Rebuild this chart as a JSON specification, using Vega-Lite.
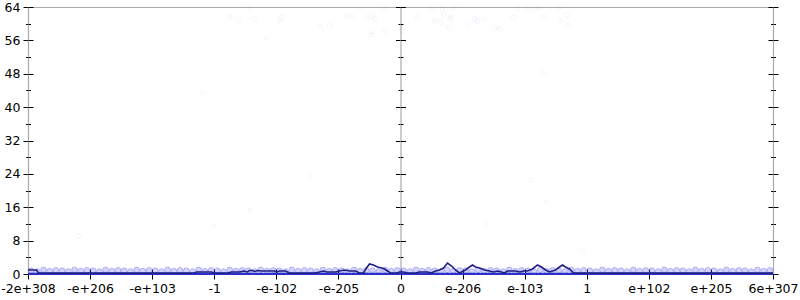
{
  "$schema": "https://vega.github.io/schema/vega-lite/v6.json",
  "width": 745,
  "height": 267,
  "autosize": "none",
  "padding": {"left": 28, "top": 7, "right": 27, "bottom": 26},
  "config": {
    "view": {"stroke": null},
    "axis": {
      "labelFont": "DejaVu Sans",
      "labelFontSize": 12.5,
      "labelColor": "#000000",
      "labelOverlap": false,
      "labelFlush": false,
      "labelBound": false,
      "tickColor": "#000000",
      "tickWidth": 1,
      "domainColor": "#aaaaaa",
      "domainWidth": 1.2,
      "grid": false,
      "title": null
    }
  },
  "datasets": {
    "band": [
      {"x":-5.95,"y":0.8},{"x":-5.85,"y":0.6},{"x":-5.75,"y":1.0},{"x":-5.65,"y":0.7},{"x":-5.55,"y":0.9},
      {"x":-5.45,"y":0.8},{"x":-5.35,"y":0.6},{"x":-5.25,"y":1.0},{"x":-5.15,"y":0.7},{"x":-5.05,"y":0.9},
      {"x":-4.95,"y":0.8},{"x":-4.85,"y":0.6},{"x":-4.75,"y":1.0},{"x":-4.65,"y":0.7},{"x":-4.55,"y":0.9},
      {"x":-4.45,"y":0.8},{"x":-4.35,"y":0.6},{"x":-4.25,"y":1.0},{"x":-4.15,"y":0.7},{"x":-4.05,"y":0.9},
      {"x":-3.95,"y":0.8},{"x":-3.85,"y":0.6},{"x":-3.75,"y":1.0},{"x":-3.65,"y":0.7},{"x":-3.55,"y":0.9},
      {"x":-3.45,"y":0.8},{"x":-3.35,"y":0.6},{"x":-3.25,"y":1.0},{"x":-3.15,"y":0.7},{"x":-3.05,"y":0.9},
      {"x":-2.95,"y":0.8},{"x":-2.85,"y":0.6},{"x":-2.75,"y":1.0},{"x":-2.65,"y":0.7},{"x":-2.55,"y":0.9},
      {"x":-2.45,"y":0.8},{"x":-2.35,"y":0.6},{"x":-2.25,"y":1.0},{"x":-2.15,"y":0.7},{"x":-2.05,"y":0.9},
      {"x":-1.95,"y":0.8},{"x":-1.85,"y":0.6},{"x":-1.75,"y":1.0},{"x":-1.65,"y":0.7},{"x":-1.55,"y":0.9},
      {"x":-1.45,"y":0.8},{"x":-1.35,"y":0.6},{"x":-1.25,"y":1.0},{"x":-1.15,"y":0.7},{"x":-1.05,"y":0.9},
      {"x":-0.95,"y":0.8},{"x":-0.85,"y":0.6},{"x":-0.75,"y":1.0},{"x":-0.65,"y":0.7},{"x":-0.55,"y":0.9},
      {"x":-0.45,"y":0.8},{"x":-0.35,"y":0.6},{"x":-0.25,"y":1.0},{"x":-0.15,"y":0.7},{"x":-0.05,"y":0.9},
      {"x":0.05,"y":0.8},{"x":0.15,"y":0.6},{"x":0.25,"y":1.0},{"x":0.35,"y":0.7},{"x":0.45,"y":0.9},
      {"x":0.55,"y":0.8},{"x":0.65,"y":0.6},{"x":0.75,"y":1.0},{"x":0.85,"y":0.7},{"x":0.95,"y":0.9},
      {"x":1.05,"y":0.8},{"x":1.15,"y":0.6},{"x":1.25,"y":1.0},{"x":1.35,"y":0.7},{"x":1.45,"y":0.9},
      {"x":1.55,"y":0.8},{"x":1.65,"y":0.6},{"x":1.75,"y":1.0},{"x":1.85,"y":0.7},{"x":1.95,"y":0.9},
      {"x":2.05,"y":0.8},{"x":2.15,"y":0.6},{"x":2.25,"y":1.0},{"x":2.35,"y":0.7},{"x":2.45,"y":0.9},
      {"x":2.55,"y":0.8},{"x":2.65,"y":0.6},{"x":2.75,"y":1.0},{"x":2.85,"y":0.7},{"x":2.95,"y":0.9},
      {"x":3.05,"y":0.8},{"x":3.15,"y":0.6},{"x":3.25,"y":1.0},{"x":3.35,"y":0.7},{"x":3.45,"y":0.9},
      {"x":3.55,"y":0.8},{"x":3.65,"y":0.6},{"x":3.75,"y":1.0},{"x":3.85,"y":0.7},{"x":3.95,"y":0.9},
      {"x":4.05,"y":0.8},{"x":4.15,"y":0.6},{"x":4.25,"y":1.0},{"x":4.35,"y":0.7},{"x":4.45,"y":0.9},
      {"x":4.55,"y":0.8},{"x":4.65,"y":0.6},{"x":4.75,"y":1.0},{"x":4.85,"y":0.7},{"x":4.95,"y":0.9},
      {"x":5.05,"y":0.8},{"x":5.15,"y":0.6},{"x":5.25,"y":1.0},{"x":5.35,"y":0.7},{"x":5.45,"y":0.9},
      {"x":5.55,"y":0.8},{"x":5.65,"y":0.6},{"x":5.75,"y":1.0},{"x":5.85,"y":0.7},{"x":5.95,"y":0.9}
    ],
    "scatter": [
      {"x":-2.754,"y":61.67},{"x":-2.593,"y":60.64},{"x":-2.432,"y":63.76},{"x":-2.352,"y":61.12},
      {"x":-1.949,"y":60.64},{"x":-1.906,"y":61.53},{"x":-2.158,"y":56.57},{"x":-1.293,"y":59.28},
      {"x":-1.144,"y":59.52},{"x":-0.875,"y":61.91},{"x":-0.789,"y":61.67},{"x":-0.536,"y":61.43},
      {"x":-0.456,"y":61.91},{"x":-0.408,"y":61.12},{"x":-0.456,"y":58.08},{"x":-0.488,"y":57.29},
      {"x":-0.246,"y":58.32},{"x":-0.258,"y":63.69},{"x":0.027,"y":58.25},{"x":0.274,"y":61.67},
      {"x":0.499,"y":63.76},{"x":0.677,"y":63.76},{"x":0.87,"y":63.76},{"x":0.548,"y":60.72},
      {"x":0.64,"y":60.24},{"x":0.693,"y":62.32},{"x":0.817,"y":61.67},{"x":0.801,"y":61.12},
      {"x":0.773,"y":59.13},{"x":1.095,"y":59.93},{"x":1.192,"y":61.12},{"x":1.24,"y":60.72},
      {"x":1.353,"y":61.05},{"x":1.525,"y":59.13},{"x":1.595,"y":58.65},{"x":1.82,"y":61.53},
      {"x":1.885,"y":63.69},{"x":2.046,"y":63.76},{"x":2.158,"y":63.76},{"x":2.239,"y":63.76},
      {"x":2.303,"y":61.67},{"x":2.545,"y":63.76},{"x":2.577,"y":60.72},{"x":2.674,"y":61.98},
      {"x":2.706,"y":59.69},{"x":2.303,"y":48.11},{"x":-3.194,"y":43.46},{"x":-5.187,"y":9.11},
      {"x":-3.012,"y":11.51},{"x":-2.421,"y":15.1},{"x":2.347,"y":17.09},{"x":1.38,"y":12.15},
      {"x":2.948,"y":5.51},{"x":-1.45,"y":23.49},{"x":2.11,"y":22.53}
    ],
    "base": [{"x":-6,"y":0.05},{"x":6,"y":0.05}],
    "line": [
      {"x":-6.0,"y":0.96},{"x":-5.863,"y":0.96},{"x":-5.831,"y":0.24},{"x":-3.318,"y":0.24},
      {"x":-3.286,"y":0.48},{"x":-3.044,"y":0.48},{"x":-3.012,"y":0.24},{"x":-2.787,"y":0.24},
      {"x":-2.722,"y":0.48},{"x":-2.593,"y":0.48},{"x":-2.529,"y":0.72},{"x":-2.465,"y":0.48},
      {"x":-2.432,"y":0.84},{"x":-2.384,"y":0.84},{"x":-2.352,"y":0.6},{"x":-2.303,"y":0.84},
      {"x":-2.239,"y":0.72},{"x":-2.03,"y":0.72},{"x":-1.997,"y":0.48},{"x":-1.949,"y":0.72},
      {"x":-1.852,"y":0.72},{"x":-1.788,"y":0.24},{"x":-1.627,"y":0.24},{"x":-1.385,"y":0.24},
      {"x":-1.305,"y":0.48},{"x":-1.24,"y":0.72},{"x":-1.192,"y":0.48},{"x":-1.047,"y":0.48},
      {"x":-0.983,"y":0.72},{"x":-0.902,"y":0.96},{"x":-0.822,"y":0.72},{"x":-0.725,"y":0.72},
      {"x":-0.66,"y":0.24},{"x":-0.596,"y":0.24},{"x":-0.548,"y":1.44},{"x":-0.499,"y":2.4},
      {"x":-0.435,"y":2.16},{"x":-0.37,"y":1.68},{"x":-0.306,"y":1.44},{"x":-0.258,"y":1.2},
      {"x":-0.209,"y":0.72},{"x":-0.161,"y":0.24},{"x":-0.064,"y":0.24},{"x":-0.016,"y":0.48},
      {"x":0.048,"y":0.48},{"x":0.113,"y":0.24},{"x":0.242,"y":0.24},{"x":0.306,"y":0.48},
      {"x":0.435,"y":0.48},{"x":0.499,"y":0.24},{"x":0.564,"y":0.72},{"x":0.628,"y":0.96},
      {"x":0.693,"y":1.44},{"x":0.757,"y":2.64},{"x":0.822,"y":1.92},{"x":0.886,"y":0.96},
      {"x":0.95,"y":0.24},{"x":1.047,"y":0.96},{"x":1.111,"y":1.68},{"x":1.16,"y":2.16},
      {"x":1.208,"y":1.68},{"x":1.273,"y":1.44},{"x":1.353,"y":0.96},{"x":1.434,"y":0.72},
      {"x":1.498,"y":0.48},{"x":1.563,"y":0.72},{"x":1.627,"y":0.48},{"x":1.675,"y":0.24},
      {"x":1.724,"y":0.72},{"x":1.852,"y":0.72},{"x":1.917,"y":0.48},{"x":1.981,"y":0.72},
      {"x":2.046,"y":0.72},{"x":2.126,"y":1.2},{"x":2.207,"y":2.16},{"x":2.271,"y":1.68},
      {"x":2.336,"y":0.96},{"x":2.4,"y":0.48},{"x":2.497,"y":0.96},{"x":2.561,"y":1.68},
      {"x":2.61,"y":2.16},{"x":2.658,"y":1.68},{"x":2.722,"y":1.2},{"x":2.787,"y":0.24},
      {"x":6.0,"y":0.24}
    ]
  },
  "resolve": {"axis": {"x": "independent", "y": "independent"}},
  "layer": [
    {
      "data": {"name": "band"},
      "mark": {"type": "point", "shape": "circle", "filled": true, "size": 32, "fill": "#3a3ae8", "fillOpacity": 0.22, "stroke": "#3a3ae8", "strokeOpacity": 0.3, "strokeWidth": 1},
      "encoding": {
        "x": {"field": "x", "type": "quantitative", "scale": {"domain": [-6, 6], "nice": false, "zero": false},
          "axis": {"orient": "bottom", "values": [-6,-5,-4,-3,-2,-1,0,1,2,3,4,5,6], "tickSize": 5, "labelPadding": 3,
            "labelExpr": "['-2e+308','-e+206','-e+103','-1','-e-102','-e-205','0','e-206','e-103','1','e+102','e+205','6e+307'][datum.value + 6]"}},
        "y": {"field": "y", "type": "quantitative", "scale": {"domain": [0, 64], "nice": false, "zero": true},
          "axis": {"orient": "left", "values": [0,4,8,12,16,20,24,28,32,36,40,44,48,52,56,60,64],
            "tickSize": {"condition": {"test": "datum.value % 8 === 0", "value": 5}, "value": 2.5},
            "labelPadding": 3,
            "labelExpr": "datum.value % 8 === 0 ? datum.label : ''"}}
      }
    },
    {
      "data": {"name": "scatter"},
      "mark": {"type": "point", "shape": "circle", "filled": false, "size": 22, "stroke": "#4848d8", "strokeOpacity": 0.07, "strokeWidth": 1},
      "encoding": {
        "x": {"field": "x", "type": "quantitative", "scale": {"domain": [-6, 6], "nice": false, "zero": false},
          "axis": {"orient": "bottom", "values": [-6,-5,-4,-3,-2,-1,0,1,2,3,4,5,6], "tickSize": -5, "labels": false, "domain": false}},
        "y": {"field": "y", "type": "quantitative", "scale": {"domain": [0, 64], "nice": false, "zero": true},
          "axis": {"orient": "left", "values": [0,4,8,12,16,20,24,28,32,36,40,44,48,52,56,60,64],
            "tickSize": {"condition": {"test": "datum.value % 8 === 0", "value": -5}, "value": -2.5},
            "labels": false, "domain": false}}
      }
    },
    {
      "data": {"name": "scatter"},
      "mark": {"type": "point", "opacity": 0},
      "encoding": {
        "x": {"field": "x", "type": "quantitative", "scale": {"domain": [-6, 6], "nice": false, "zero": false}, "axis": null},
        "y": {"field": "y", "type": "quantitative", "scale": {"domain": [0, 64], "nice": false, "zero": true},
          "axis": {"orient": "left", "offset": -372.5, "values": [0,4,8,12,16,20,24,28,32,36,40,44,48,52,56,60,64],
            "tickSize": {"condition": {"test": "datum.value % 8 === 0", "value": 5}, "value": 2.5},
            "labels": false}}
      }
    },
    {
      "data": {"name": "scatter"},
      "mark": {"type": "point", "opacity": 0},
      "encoding": {
        "x": {"field": "x", "type": "quantitative", "scale": {"domain": [-6, 6], "nice": false, "zero": false}, "axis": null},
        "y": {"field": "y", "type": "quantitative", "scale": {"domain": [0, 64], "nice": false, "zero": true},
          "axis": {"orient": "right", "offset": -372.5, "values": [0,4,8,12,16,20,24,28,32,36,40,44,48,52,56,60,64],
            "tickSize": {"condition": {"test": "datum.value % 8 === 0", "value": 5}, "value": 2.5},
            "labels": false, "domain": false}}
      }
    },
    {
      "data": {"name": "base"},
      "mark": {"type": "line", "color": "#2e2ec8", "strokeWidth": 2.2},
      "encoding": {
        "x": {"field": "x", "type": "quantitative", "scale": {"domain": [-6, 6], "nice": false, "zero": false},
          "axis": {"orient": "top", "ticks": false, "labels": false}},
        "y": {"field": "y", "type": "quantitative", "scale": {"domain": [0, 64], "nice": false, "zero": true},
          "axis": {"orient": "right", "values": [0,4,8,12,16,20,24,28,32,36,40,44,48,52,56,60,64],
            "tickSize": {"condition": {"test": "datum.value % 8 === 0", "value": 5}, "value": 2.5},
            "labels": false}}
      }
    },
    {
      "data": {"name": "line"},
      "mark": {"type": "line", "color": "#1e1e86", "strokeWidth": 1.6},
      "encoding": {
        "x": {"field": "x", "type": "quantitative", "scale": {"domain": [-6, 6], "nice": false, "zero": false}, "axis": null},
        "y": {"field": "y", "type": "quantitative", "scale": {"domain": [0, 64], "nice": false, "zero": true},
          "axis": {"orient": "right", "values": [0,4,8,12,16,20,24,28,32,36,40,44,48,52,56,60,64],
            "tickSize": {"condition": {"test": "datum.value % 8 === 0", "value": -5}, "value": -2.5},
            "labels": false, "domain": false}}
      }
    }
  ]
}
